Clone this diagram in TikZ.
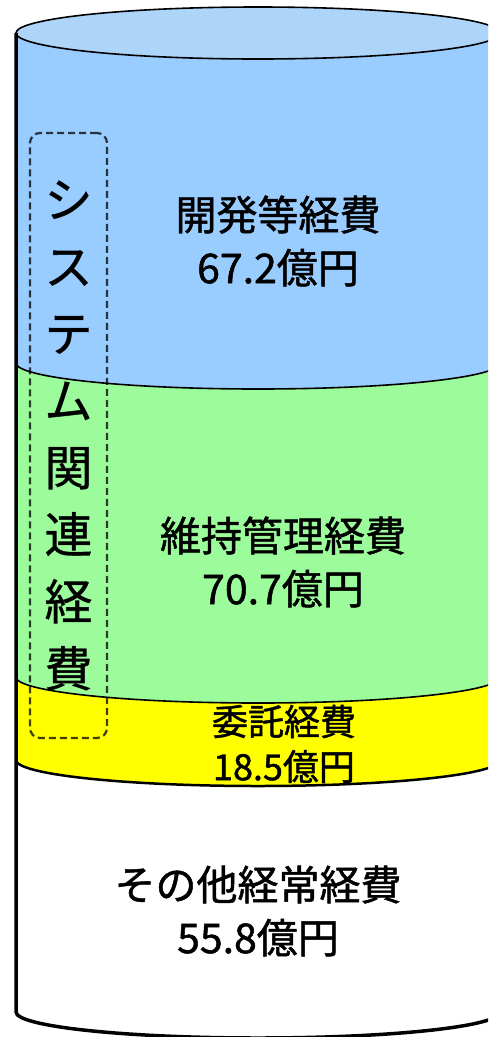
\documentclass[tikz,border=0pt]{standalone}
\usepackage{fontspec}
\usepackage{xcolor}
\usepackage{tikz}
\newfontfamily\jpfont[FakeBold=1.2]{Noto Sans CJK JP}
\definecolor{devblue}{HTML}{99CCFF}
\definecolor{topblue}{HTML}{ADD5FA}
\definecolor{maintgreen}{HTML}{9CFC9C}
\definecolor{itemyellow}{HTML}{FFFF00}
\tikzset{layerlabel/.style={font=\jpfont\fontsize{41}{53}\selectfont, align=center, inner sep=0pt}}
\tikzset{rim/.style={draw=black, line width=1.6pt}}

\begin{document}
\begin{tikzpicture}[x=1pt,y=1pt]
			\useasboundingbox (0,0) rectangle (488,-1037);
			\clip (0,0) rectangle (488,-1037);
			% layers of the cylinder
			\fill[devblue] (16,-33) -- (16,-363) arc[start angle=180, end angle=360, x radius=242, y radius=26]
			-- (500,-33) arc[start angle=0, end angle=180, x radius=242, y radius=26] -- cycle;
			\fill[maintgreen] (16,-363) arc[start angle=180, end angle=360, x radius=242, y radius=26]
			-- (500,-677) arc[start angle=360, end angle=180, x radius=242, y radius=26] -- cycle;
			\fill[itemyellow] (16,-677) arc[start angle=180, end angle=360, x radius=242, y radius=26]
			-- (500,-760) arc[start angle=360, end angle=180, x radius=242, y radius=26] -- cycle;
			\fill[white] (16,-760) arc[start angle=180, end angle=360, x radius=242, y radius=26]
			-- (500,-1012) arc[start angle=360, end angle=180, x radius=242, y radius=26] -- cycle;
			
			\filldraw[fill=topblue, rim] (258,-33) ellipse [x radius=242, y radius=26];
			\draw[rim] (16,-363) arc[start angle=180, end angle=360, x radius=242, y radius=26];
			\draw[rim] (16,-677) arc[start angle=180, end angle=360, x radius=242, y radius=26];
			\draw[line width=2.5pt] (16,-760) arc[start angle=180, end angle=360, x radius=242, y radius=26];
			\draw[line width=3.5pt] (16,-33) -- (16,-1012) arc[start angle=180, end angle=360, x radius=242, y radius=26];
			
			% system related bracket
			\node (sysbox) [draw=black, draw opacity=0.75, line width=2.2pt, dash pattern=on 7pt off 4pt,
			rounded corners=10pt,
			minimum width=77pt,
			minimum height=605pt,
			font=\jpfont\fontsize{48}{67}\selectfont,
			align=center, inner sep=0pt
			] at (68.5,-435.5) {シ\\ス\\テ\\ム\\関\\連\\経\\費};
			
			\node (dev) [layerlabel] at (278,-241) {開発等経費\\67.2億円};
			\node (maint) [layerlabel] at (283,-562) {維持管理経費\\70.7億円};
			\node (outsrc) [layerlabel, font=\jpfont\fontsize{36}{45}\selectfont] at (284,-744) {委託経費\\18.5億円};
			\node (other) [layerlabel] at (258,-911) {その他経常経費\\55.8億円};
		\end{tikzpicture}
\end{document}
